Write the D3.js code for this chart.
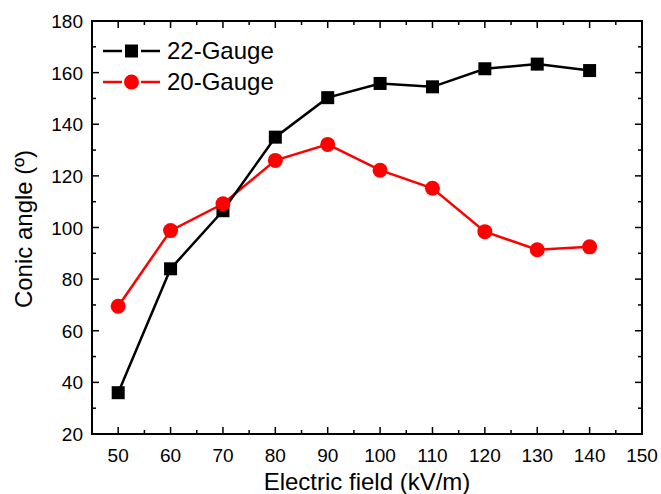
<!DOCTYPE html>
<html>
<head>
<meta charset="utf-8">
<script src="https://cdn.jsdelivr.net/npm/d3@7"></script>
<style>
  body { margin: 0; background: #fff; }
  text { font-family: "Liberation Sans", Arial, sans-serif; }
</style>
</head>
<body>
<svg width="661" height="494"></svg>
<script>
// data
var field = [50, 60, 70, 80, 90, 100, 110, 120, 130, 140];
var gauge22 = [36, 84, 106.5, 135, 150.3, 155.8, 154.5, 161.5, 163.3, 160.8];
var gauge20 = [69.5, 98.8, 109.2, 126, 132.2, 122.2, 115.2, 98.4, 91.4, 92.5];
var xTicks = [50, 60, 70, 80, 90, 100, 110, 120, 130, 140, 150];
var yTicks = [20, 40, 60, 80, 100, 120, 140, 160, 180];

var svg = d3.select("svg");
var pLeft = 92, pRight = 642, pTop = 21, pBottom = 434;

var x = d3.scaleLinear().domain([45, 150]).range([pLeft, pRight]);
var y = d3.scaleLinear().domain([20, 180]).range([pBottom, pTop]);

// minor ticks
var xMinor = d3.range(55, 150, 10);
var yMinor = d3.range(30, 180, 20);

var g = svg.append("g");

// frame
g.append("rect").attr("x", pLeft).attr("y", pTop)
  .attr("width", pRight - pLeft).attr("height", pBottom - pTop)
  .attr("fill", "none").attr("stroke", "#000").attr("stroke-width", 2);

function ticksX(vals, len) {
  vals.forEach(function (v) {
    g.append("line").attr("x1", x(v)).attr("x2", x(v))
      .attr("y1", pBottom).attr("y2", pBottom - len).attr("stroke", "#000").attr("stroke-width", 1.5);
    g.append("line").attr("x1", x(v)).attr("x2", x(v))
      .attr("y1", pTop).attr("y2", pTop + len).attr("stroke", "#000").attr("stroke-width", 1.5);
  });
}
function ticksY(vals, len) {
  vals.forEach(function (v) {
    g.append("line").attr("x1", pLeft).attr("x2", pLeft + len)
      .attr("y1", y(v)).attr("y2", y(v)).attr("stroke", "#000").attr("stroke-width", 1.5);
    g.append("line").attr("x1", pRight).attr("x2", pRight - len)
      .attr("y1", y(v)).attr("y2", y(v)).attr("stroke", "#000").attr("stroke-width", 1.5);
  });
}
ticksX(xTicks, 7);
ticksX(xMinor, 4);
ticksY(yTicks, 7);
ticksY(yMinor, 4);

// tick labels
g.selectAll(".xl").data(xTicks).enter().append("text")
  .attr("x", function (d) { return x(d); }).attr("y", 462)
  .attr("text-anchor", "middle").attr("font-size", 19).text(function (d) { return d; });
g.selectAll(".yl").data(yTicks).enter().append("text")
  .attr("x", 83).attr("y", function (d) { return y(d) + 7; })
  .attr("text-anchor", "end").attr("font-size", 19).text(function (d) { return d; });

// axis titles
svg.append("text").attr("x", 367).attr("y", 490).attr("text-anchor", "middle")
  .attr("font-size", 24).text("Electric field (kV/m)");
svg.append("text").attr("transform", "translate(32,229) rotate(-90)")
  .attr("text-anchor", "middle").attr("font-size", 24).text("Conic angle (º)");

var line = d3.line().x(function (d, i) { return x(field[i]); }).y(function (d) { return y(d); });

// series
g.append("path").datum(gauge20).attr("d", line)
  .attr("fill", "none").attr("stroke", "#ff0000").attr("stroke-width", 2.5);
g.append("path").datum(gauge22).attr("d", line)
  .attr("fill", "none").attr("stroke", "#000").attr("stroke-width", 2.5);

g.selectAll(".sq").data(gauge22).enter().append("rect")
  .attr("x", function (d, i) { return x(field[i]) - 6.5; })
  .attr("y", function (d) { return y(d) - 6.5; })
  .attr("width", 13).attr("height", 13).attr("fill", "#000");
g.selectAll(".ci").data(gauge20).enter().append("circle")
  .attr("cx", function (d, i) { return x(field[i]); })
  .attr("cy", function (d) { return y(d); })
  .attr("r", 7.5).attr("fill", "#ff0000");

// legend (line - gap - marker - gap - line)
var legend = [{ name: "22-Gauge", color: "#000", shape: "sq", y: 51 },
              { name: "20-Gauge", color: "#ff0000", shape: "ci", y: 82 }];
legend.forEach(function (l) {
  svg.append("line").attr("x1", 103).attr("x2", 122).attr("y1", l.y).attr("y2", l.y)
    .attr("stroke", l.color).attr("stroke-width", 2.5);
  svg.append("line").attr("x1", 141).attr("x2", 160).attr("y1", l.y).attr("y2", l.y)
    .attr("stroke", l.color).attr("stroke-width", 2.5);
  if (l.shape === "sq") {
    svg.append("rect").attr("x", 131.5 - 6.5).attr("y", l.y - 6.5)
      .attr("width", 13).attr("height", 13).attr("fill", l.color);
  } else {
    svg.append("circle").attr("cx", 131.5).attr("cy", l.y).attr("r", 7.5).attr("fill", l.color);
  }
  svg.append("text").attr("x", 167).attr("y", l.y + 8).attr("font-size", 24).text(l.name);
});
</script>
</body>
</html>
